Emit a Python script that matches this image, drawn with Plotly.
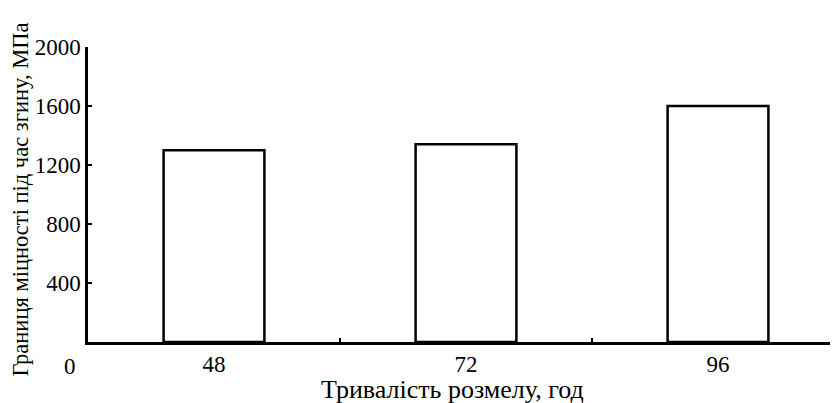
import plotly.graph_objects as go

categories = ["48", "72", "96"]
values = [1300, 1340, 1600]
y_ticks = [400, 800, 1200, 1600, 2000]
x_title = "Тривалість розмелу, год"
y_title = "Границя міцності під час згину, МПа"

FONT = "Liberation Serif, Times New Roman, serif"
FS = 23

L, R, T, B = 80, 2, 39, 69

fig = go.Figure()
fig.add_trace(go.Bar(
    x=categories, y=values, width=0.4,
    marker=dict(color="white", line=dict(color="black", width=2.5)),
    showlegend=False,
))

fig.update_layout(
    width=838, height=403,
    margin=dict(l=L, r=R, t=T, b=B, autoexpand=False),
    paper_bgcolor="white", plot_bgcolor="white",
    font=dict(family=FONT, size=FS, color="black"),
    xaxis=dict(
        type="category", tickson="boundaries", ticks="inside", ticklen=4,
        tickwidth=2, tickcolor="black",
        showline=True, linecolor="black", linewidth=2.5,
        showgrid=False, zeroline=False,
        tickfont=dict(size=FS),
    ),
    yaxis=dict(
        range=[0, 2000], tickvals=y_ticks, ticktext=[str(v) for v in y_ticks],
        ticks="inside", ticklen=4, tickwidth=2, tickcolor="black",
        showline=True, linecolor="black", linewidth=2.5,
        showgrid=False, zeroline=False,
        tickfont=dict(size=FS),
    ),
)

# axis titles as annotations for exact placement
fig.add_annotation(
    x=0, y=0.5, xref="paper", yref="paper", text=y_title, textangle=-90,
    xanchor="center", yanchor="middle", xshift=-68, yshift=-5,
    borderpad=0,
    showarrow=False, font=dict(family=FONT, size=22.5, color="black"),
)
fig.add_annotation(
    x=0.5, y=0, xref="paper", yref="paper", text=x_title,
    xanchor="center", yanchor="middle", xshift=-14, yshift=-47,
    showarrow=False, font=dict(family=FONT, size=26, color="black"),
)
fig.add_annotation(
    x=0, y=0, xref="paper", yref="paper", text="0",
    xanchor="right", yanchor="top", xshift=-10, yshift=-10,
    showarrow=False, font=dict(family=FONT, size=FS, color="black"),
)

fig.write_html("out.html")
